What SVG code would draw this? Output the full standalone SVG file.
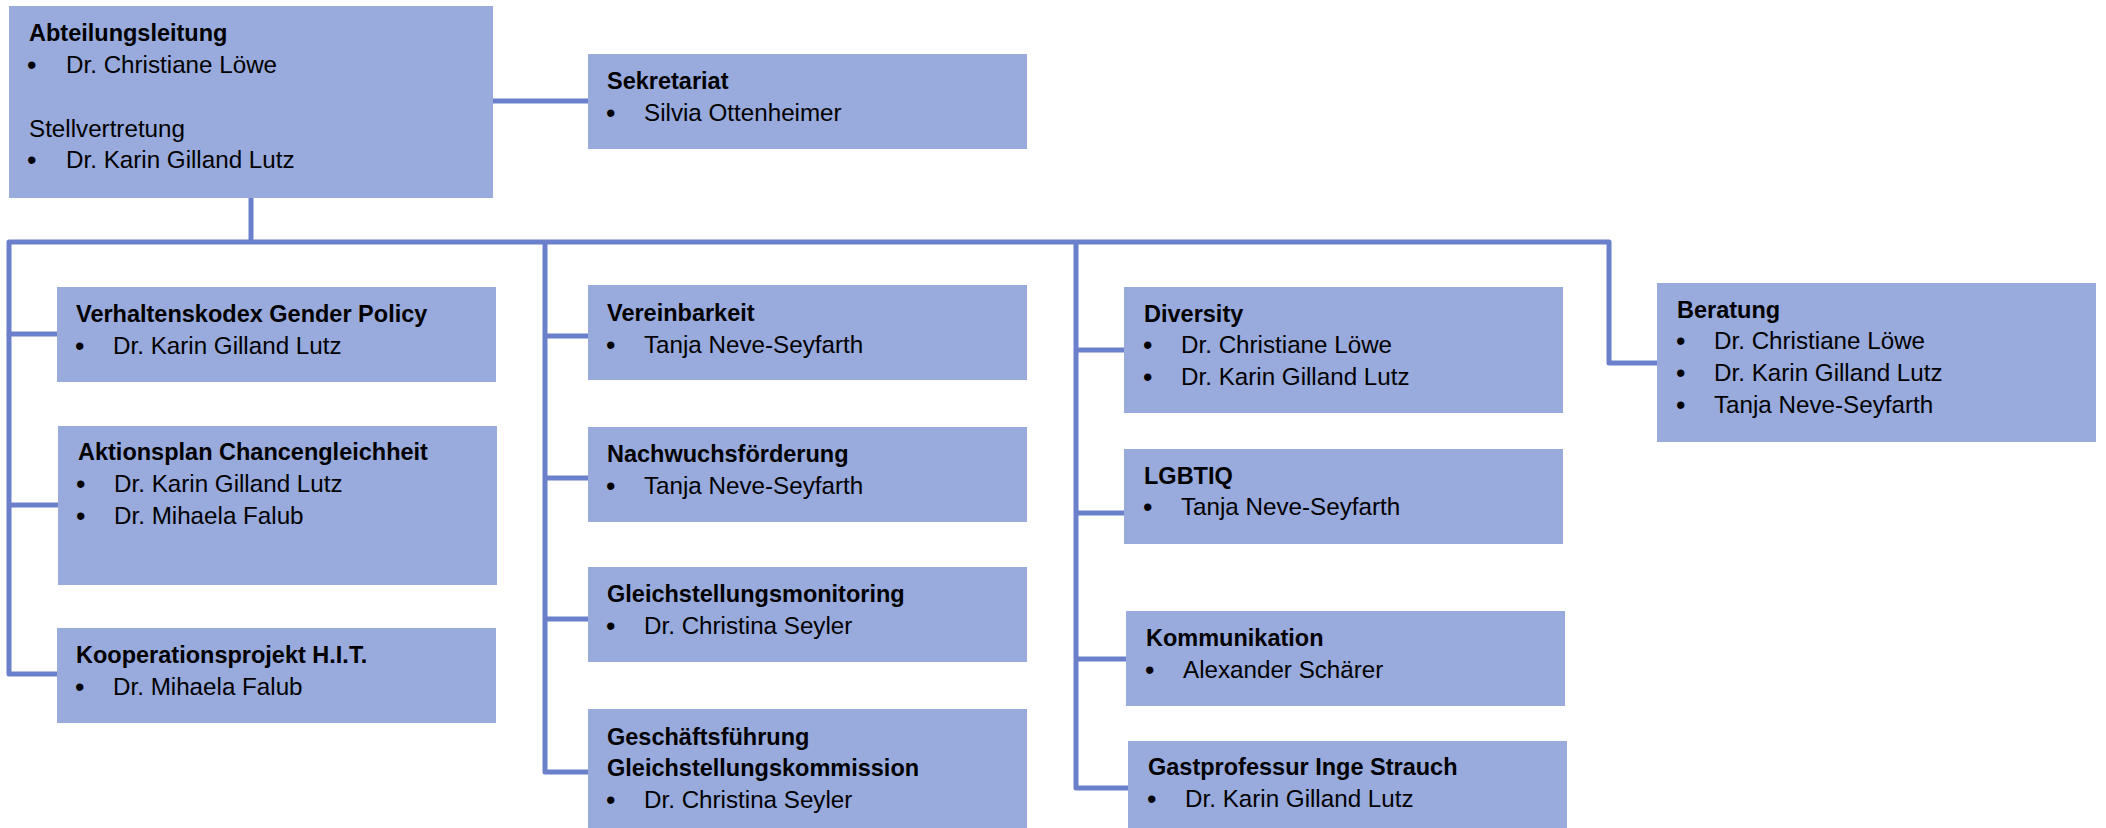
<svg xmlns="http://www.w3.org/2000/svg" width="2106" height="828" viewBox="0 0 2106 828">
<style>
.box{fill:#99AADC}
.t{font-family:"Liberation Sans",Arial,sans-serif;font-size:23.5px;font-weight:bold;fill:#000}
.p{font-family:"Liberation Sans",Arial,sans-serif;font-size:24.2px;fill:#000}
.b{font-family:"Liberation Sans",Arial,sans-serif;font-size:27px;fill:#000}
.c{fill:none;stroke:#6A80CB;stroke-width:5;stroke-linejoin:round}
</style>
<rect width="2106" height="828" fill="#fff"/>
<g id="connectors">
<path class="c" d="M493 101H588"/>
<path class="c" d="M251 198V242"/>
<path class="c" d="M57 334H9V242H1609V363H1657"/>
<path class="c" d="M9 334V674H57M9 505H58"/>
<path class="c" d="M545 242V772H588M545 336H588M545 478H588M545 619H588"/>
<path class="c" d="M1076 242V788H1128M1076 350H1124M1076 513H1124M1076 659H1126"/>
</g>
<g id="abteilungsleitung">
<rect class="box" x="9" y="6" width="484" height="192"/>
<text class="t" x="29" y="41">Abteilungsleitung</text>
<text class="b" x="27" y="74">•</text><text class="p" x="66" y="73">Dr. Christiane Löwe</text>
<text class="p" x="29" y="137">Stellvertretung</text>
<text class="b" x="27" y="169">•</text><text class="p" x="66" y="168">Dr. Karin Gilland Lutz</text>
</g>
<g id="sekretariat">
<rect class="box" x="588" y="54" width="439" height="95"/>
<text class="t" x="607" y="89">Sekretariat</text>
<text class="b" x="606" y="122">•</text><text class="p" x="644" y="121">Silvia Ottenheimer</text>
</g>
<g id="verhaltenskodex">
<rect class="box" x="57" y="287" width="439" height="95"/>
<text class="t" x="76" y="322">Verhaltenskodex Gender Policy</text>
<text class="b" x="75" y="355">•</text><text class="p" x="113" y="354">Dr. Karin Gilland Lutz</text>
</g>
<g id="aktionsplan">
<rect class="box" x="58" y="426" width="439" height="159"/>
<text class="t" x="78" y="460">Aktionsplan Chancengleichheit</text>
<text class="b" x="76" y="493">•</text><text class="p" x="114" y="492">Dr. Karin Gilland Lutz</text>
<text class="b" x="76" y="525">•</text><text class="p" x="114" y="524">Dr. Mihaela Falub</text>
</g>
<g id="kooperationsprojekt">
<rect class="box" x="57" y="628" width="439" height="95"/>
<text class="t" x="76" y="663">Kooperationsprojekt H.I.T.</text>
<text class="b" x="75" y="696">•</text><text class="p" x="113" y="695">Dr. Mihaela Falub</text>
</g>
<g id="vereinbarkeit">
<rect class="box" x="588" y="285" width="439" height="95"/>
<text class="t" x="607" y="321">Vereinbarkeit</text>
<text class="b" x="606" y="354">•</text><text class="p" x="644" y="353">Tanja Neve-Seyfarth</text>
</g>
<g id="nachwuchsfoerderung">
<rect class="box" x="588" y="427" width="439" height="95"/>
<text class="t" x="607" y="462">Nachwuchsförderung</text>
<text class="b" x="606" y="495">•</text><text class="p" x="644" y="494">Tanja Neve-Seyfarth</text>
</g>
<g id="gleichstellungsmonitoring">
<rect class="box" x="588" y="567" width="439" height="95"/>
<text class="t" x="607" y="602">Gleichstellungsmonitoring</text>
<text class="b" x="606" y="635">•</text><text class="p" x="644" y="634">Dr. Christina Seyler</text>
</g>
<g id="geschaeftsfuehrung">
<rect class="box" x="588" y="709" width="439" height="119"/>
<text class="t" x="607" y="745">Geschäftsführung</text>
<text class="t" x="607" y="776">Gleichstellungskommission</text>
<text class="b" x="606" y="809">•</text><text class="p" x="644" y="808">Dr. Christina Seyler</text>
</g>
<g id="diversity">
<rect class="box" x="1124" y="287" width="439" height="126"/>
<text class="t" x="1144" y="322">Diversity</text>
<text class="b" x="1143" y="354">•</text><text class="p" x="1181" y="353">Dr. Christiane Löwe</text>
<text class="b" x="1143" y="386">•</text><text class="p" x="1181" y="385">Dr. Karin Gilland Lutz</text>
</g>
<g id="lgbtiq">
<rect class="box" x="1124" y="449" width="439" height="95"/>
<text class="t" x="1144" y="484">LGBTIQ</text>
<text class="b" x="1143" y="516">•</text><text class="p" x="1181" y="515">Tanja Neve-Seyfarth</text>
</g>
<g id="kommunikation">
<rect class="box" x="1126" y="611" width="439" height="95"/>
<text class="t" x="1146" y="646">Kommunikation</text>
<text class="b" x="1145" y="679">•</text><text class="p" x="1183" y="678">Alexander Schärer</text>
</g>
<g id="gastprofessur">
<rect class="box" x="1128" y="741" width="439" height="87"/>
<text class="t" x="1148" y="775">Gastprofessur Inge Strauch</text>
<text class="b" x="1147" y="808">•</text><text class="p" x="1185" y="807">Dr. Karin Gilland Lutz</text>
</g>
<g id="beratung">
<rect class="box" x="1657" y="283" width="439" height="159"/>
<text class="t" x="1677" y="318">Beratung</text>
<text class="b" x="1676" y="350">•</text><text class="p" x="1714" y="349">Dr. Christiane Löwe</text>
<text class="b" x="1676" y="382">•</text><text class="p" x="1714" y="381">Dr. Karin Gilland Lutz</text>
<text class="b" x="1676" y="414">•</text><text class="p" x="1714" y="413">Tanja Neve-Seyfarth</text>
</g>
</svg>
